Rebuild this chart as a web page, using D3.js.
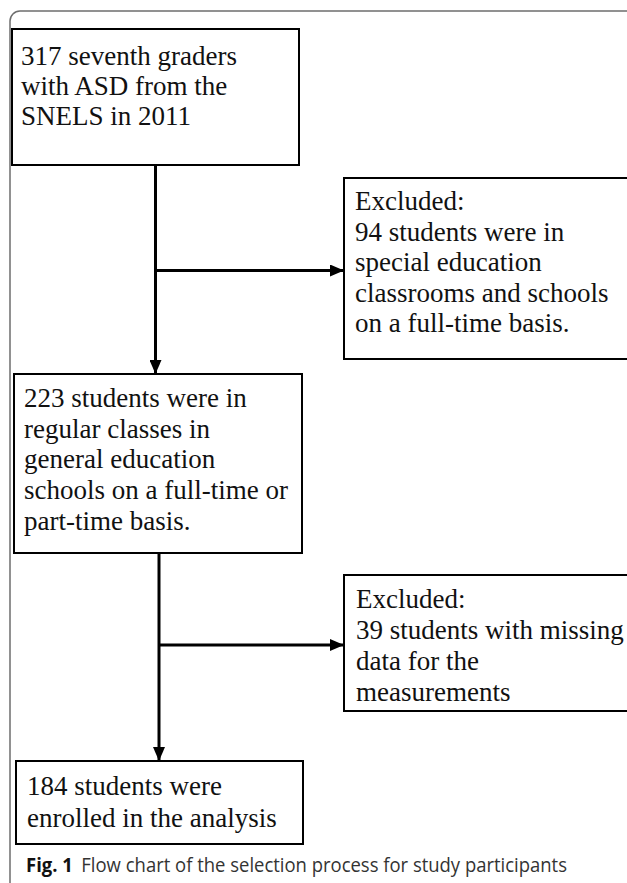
<!DOCTYPE html>
<meta charset="utf-8">

<style>

body { margin: 0; background: #fff; }

.box rect {
  fill: #fff;
  stroke: #000;
  stroke-width: 2;
}

.box text {
  font: 27px "Liberation Serif", "Times New Roman", serif;
  fill: #111;
}

.link {
  stroke: #000;
  stroke-width: 3;
  fill: none;
}

.frame {
  stroke: #6e6e6e;
  stroke-width: 1.5;
  fill: none;
}

.caption {
  font-family: "Open Sans", sans-serif;
  font-size: 19.5px;
  fill: #333;
}

</style>
<svg width="627" height="883"></svg>
<script src="https://d3js.org/d3.v7.min.js"></script>
<script>

// counts at each step of the selection
var counts = [317, 94, 223, 39, 184];

var boxLines = [
  [counts[0] + " seventh graders", "with ASD from the", "SNELS in 2011"],
  ["Excluded:", counts[1] + " students were in", "special education", "classrooms and schools", "on a full-time basis."],
  [counts[2] + " students were in", "regular classes in", "general education", "schools on a full-time or", "part-time basis."],
  ["Excluded:", counts[3] + " students with missing", "data for the", "measurements"],
  [counts[4] + " students were", "enrolled in the analysis"]
];

var captionBold = "Fig. 1";
var captionText = "Flow chart of the selection process for study participants";

// layout (pixels): x, y, w, h, text inset, first baseline, line height
var layout = [
  {x: 12,  y: 29,  w: 287, h: 136, tx: 9,  by: 36, lh: 30},
  {x: 344, y: 178, w: 300, h: 181, tx: 11, by: 32, lh: 30.5},
  {x: 14,  y: 374, w: 288, h: 179, tx: 10, by: 33, lh: 30.7},
  {x: 344, y: 575, w: 300, h: 136, tx: 12, by: 33, lh: 31},
  {x: 16,  y: 761, w: 287, h: 83,  tx: 11, by: 34, lh: 32}
];

// main flow from box to box, with the exclusion branch off it
var links = [
  {from: 0, to: 2, branch: 1},
  {from: 2, to: 4, branch: 3}
];

var svg = d3.select("svg"),
    width = +svg.attr("width"),
    height = +svg.attr("height");

var x = d3.scaleIdentity().domain([0, width]),
    y = d3.scaleIdentity().domain([0, height]);

svg.append("defs").append("marker")
    .attr("id", "arrow")
    .attr("markerUnits", "userSpaceOnUse")
    .attr("markerWidth", 14)
    .attr("markerHeight", 12)
    .attr("refX", 14)
    .attr("refY", 6)
    .attr("orient", "auto")
  .append("path")
    .attr("d", "M0,0L14,6L0,12Z")
    .attr("fill", "#000");

// outer frame with rounded top-left corner
svg.append("path")
    .attr("class", "frame")
    .attr("d", "M" + x(10) + "," + y(height) + "V" + y(21) + "A10,10 0 0 1 " + x(20) + "," + y(11) + "H" + x(width + 5));

var box = svg.selectAll(".box")
  .data(layout)
  .enter().append("g")
    .attr("class", "box")
    .attr("transform", function(d) { return "translate(" + x(d.x) + "," + y(d.y) + ")"; });

box.append("rect")
    .attr("width", function(d) { return d.w; })
    .attr("height", function(d) { return d.h; });

box.each(function(d, i) {
  d3.select(this).selectAll("text")
    .data(boxLines[i])
    .enter().append("text")
      .attr("x", d.tx)
      .attr("y", function(t, j) { return d.by + j * d.lh; })
      .text(function(t) { return t; });
});

// arrows
var line = d3.line();
links.forEach(function(l) {
  var a = layout[l.from], b = layout[l.to], c = layout[l.branch];
  var cx = a.x + a.w / 2 + (l.from === 2 ? 1 : 0);
  var y0 = a.y + a.h, y1 = b.y;
  svg.append("path")
      .attr("class", "link")
      .attr("d", line([[x(cx), y(y0)], [x(cx), y(y1)]]))
      .attr("marker-end", "url(#arrow)");
  var by = c.y + c.h / 2 + 2;
  svg.append("path")
      .attr("class", "link")
      .attr("d", line([[x(cx), y(by)], [x(c.x), y(by)]]))
      .attr("marker-end", "url(#arrow)");
});

// caption
var cap = svg.append("text")
    .attr("class", "caption")
    .attr("x", 26)
    .attr("y", 872)
    .attr("textLength", 541)
    .attr("lengthAdjust", "spacingAndGlyphs");

cap.append("tspan")
    .style("font-weight", "bold")
    .style("fill", "#111")
    .text(captionBold);

cap.append("tspan")
    .attr("dx", 9)
    .text(captionText);

</script>
